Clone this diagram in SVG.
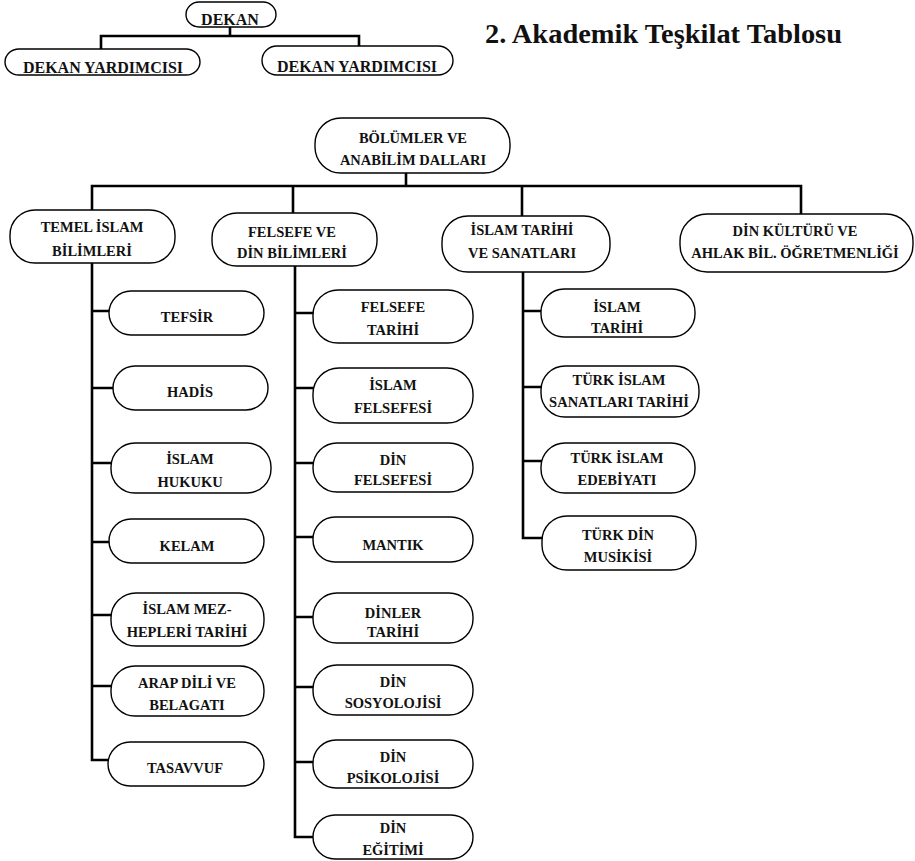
<svg xmlns="http://www.w3.org/2000/svg" width="915" height="861" viewBox="0 0 915 861">
<defs>
<style>
.n rect{fill:#fff;stroke:#000;stroke-width:1.4}
.n text{font-family:"Liberation Serif","Times New Roman",serif;font-weight:bold;font-size:14.5px;text-anchor:middle;fill:#111}
.big text{font-size:16px}
.c path{fill:none;stroke:#000;stroke-width:2.6;stroke-linecap:square}
.title{font-family:"Liberation Serif","Times New Roman",serif;font-weight:bold;font-size:27px;fill:#111}
</style>
</defs>
<rect width="915" height="861" fill="#fff"/>
<text class="title" x="485" y="43" textLength="357" lengthAdjust="spacingAndGlyphs">2. Akademik Teşkilat Tablosu</text>

<g id="connectors" class="c">
<path d="M230 27V36M101 48V36H359V46"/>
<path d="M406 173V186M92 210V186H801V214M293 186V213M522 186V216"/>
<path d="M92 263V760H108M92 311H109M92 388H113M92 463H111M92 542H109M92 615H111M92 686H111"/>
<path d="M295 266V837H313M295 313H313M295 388H313M295 463H313M295 537H313M295 617H313M295 687H313M295 762H313"/>
<path d="M523 272V538H542M523 311H541M523 387H541M523 461H541"/>
</g>

<g id="dekan" class="n big"><rect x="186" y="2" width="90" height="25" rx="13"/><text x="230" y="25">DEKAN</text></g>
<g id="dekan-yrd-1" class="n big"><rect x="5" y="49" width="195" height="26" rx="14"/><text x="103" y="72.5">DEKAN YARDIMCISI</text></g>
<g id="dekan-yrd-2" class="n big"><rect x="262" y="46" width="191" height="29" rx="15"/><text x="357" y="72">DEKAN YARDIMCISI</text></g>

<g id="bolumler" class="n"><rect x="315" y="118" width="195" height="55" rx="26"/><text x="413" y="143">BÖLÜMLER VE</text><text x="413" y="165">ANABİLİM DALLARI</text></g>

<g id="temel" class="n"><rect x="10" y="210" width="165" height="53" rx="25"/><text x="92" y="232">TEMEL İSLAM</text><text x="92" y="256">BİLİMLERİ</text></g>
<g id="felsefe-din" class="n"><rect x="212" y="213" width="165" height="53" rx="25"/><text x="292" y="237">FELSEFE VE</text><text x="292" y="258">DİN BİLİMLERİ</text></g>
<g id="islam-tarihi-sanat" class="n"><rect x="442" y="216" width="168" height="56" rx="26"/><text x="522" y="235">İSLAM TARİHİ</text><text x="522" y="258">VE SANATLARI</text></g>
<g id="din-kulturu" class="n"><rect x="680" y="214" width="233" height="58" rx="27"/><text x="795" y="236">DİN KÜLTÜRÜ VE</text><text x="795" y="258">AHLAK BİL. ÖĞRETMENLİĞİ</text></g>

<g id="tefsir" class="n"><rect x="109" y="291" width="155" height="44" rx="22"/><text x="187" y="322">TEFSİR</text></g>
<g id="hadis" class="n"><rect x="113" y="366" width="155" height="44" rx="22"/><text x="190" y="397">HADİS</text></g>
<g id="islam-hukuku" class="n"><rect x="111" y="443" width="160" height="50" rx="24"/><text x="190" y="464">İSLAM</text><text x="190" y="487">HUKUKU</text></g>
<g id="kelam" class="n"><rect x="109" y="519" width="155" height="44" rx="22"/><text x="187" y="551">KELAM</text></g>
<g id="mezhepler" class="n"><rect x="111" y="593" width="153" height="53" rx="25"/><text x="187" y="614">İSLAM MEZ-</text><text x="187" y="637">HEPLERİ TARİHİ</text></g>
<g id="arap-dili" class="n"><rect x="111" y="666" width="153" height="50" rx="24"/><text x="187" y="688">ARAP DİLİ VE</text><text x="187" y="710">BELAGATI</text></g>
<g id="tasavvuf" class="n"><rect x="108" y="742" width="156" height="44" rx="22"/><text x="185" y="773">TASAVVUF</text></g>

<g id="felsefe-tarihi" class="n"><rect x="313" y="290" width="160" height="53" rx="25"/><text x="393" y="312">FELSEFE</text><text x="393" y="335">TARİHİ</text></g>
<g id="islam-felsefesi" class="n"><rect x="313" y="368" width="160" height="55" rx="26"/><text x="393" y="390">İSLAM</text><text x="393" y="413">FELSEFESİ</text></g>
<g id="din-felsefesi" class="n"><rect x="313" y="443" width="160" height="49" rx="24"/><text x="393" y="465">DİN</text><text x="393" y="485">FELSEFESİ</text></g>
<g id="mantik" class="n"><rect x="313" y="517" width="160" height="45" rx="22"/><text x="393" y="550">MANTIK</text></g>
<g id="dinler-tarihi" class="n"><rect x="313" y="593" width="160" height="50" rx="24"/><text x="393" y="618">DİNLER</text><text x="393" y="637">TARİHİ</text></g>
<g id="din-sosyolojisi" class="n"><rect x="313" y="665" width="160" height="50" rx="24"/><text x="393" y="687">DİN</text><text x="393" y="708">SOSYOLOJİSİ</text></g>
<g id="din-psikolojisi" class="n"><rect x="313" y="740" width="160" height="48" rx="23"/><text x="393" y="762">DİN</text><text x="393" y="783">PSİKOLOJİSİ</text></g>
<g id="din-egitimi" class="n"><rect x="313" y="815" width="160" height="44" rx="22"/><text x="393" y="833">DİN</text><text x="393" y="855">EĞİTİMİ</text></g>

<g id="islam-tarihi" class="n"><rect x="541" y="289" width="154" height="48" rx="23"/><text x="617" y="312">İSLAM</text><text x="617" y="333">TARİHİ</text></g>
<g id="turk-islam-sanatlari" class="n"><rect x="541" y="366" width="158" height="51" rx="24"/><text x="619" y="385">TÜRK İSLAM</text><text x="619" y="407">SANATLARI TARİHİ</text></g>
<g id="turk-islam-edebiyati" class="n"><rect x="541" y="443" width="154" height="50" rx="24"/><text x="617" y="463">TÜRK İSLAM</text><text x="617" y="485">EDEBİYATI</text></g>
<g id="turk-din-musikisi" class="n"><rect x="542" y="516" width="154" height="54" rx="25"/><text x="618" y="540">TÜRK DİN</text><text x="618" y="562">MUSİKİSİ</text></g>
</svg>
